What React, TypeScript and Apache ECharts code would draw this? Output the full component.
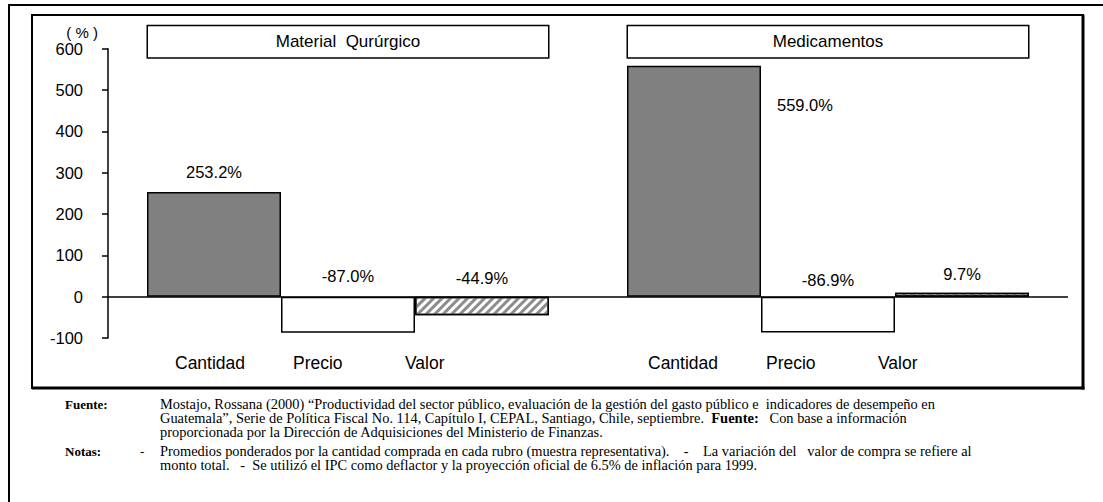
import React, { useEffect, useRef } from 'react';
import * as echarts from 'echarts';

const categories = ['Material Qurúrgico', 'Medicamentos'];
const seriesNames = ['Cantidad', 'Precio', 'Valor'];
const cantidad = [253.2, 559.0];
const precio = [-87.0, -86.9];
const valor = [-44.9, 9.7];
const yMin = -100;
const yMax = 600;
const yStep = 100;
const yName = '( % )';

const fuenteLines = [
  'Mostajo, Rossana (2000) “Productividad del sector público, evaluación de la gestión del gasto público e\u00a0 indicadores de desempeño en',
  'Guatemala”, Serie de Política Fiscal No. 114, Capítulo I, CEPAL, Santiago, Chile, septiembre.\u00a0 {b|Fuente:}\u00a0\u00a0 Con base a información',
  'proporcionada por la Dirección de Adquisiciones del Ministerio de Finanzas.',
];
const notasLines = [
  'Promedios ponderados por la cantidad comprada en cada rubro (muestra representativa).\u00a0\u00a0\u00a0 -\u00a0\u00a0\u00a0 La variación del\u00a0\u00a0 valor de compra se refiere al',
  'monto total.\u00a0\u00a0 -\u00a0 Se utilizó el IPC como deflactor y la proyección oficial de 6.5% de inflación para 1999.',
];

const sans = '"Liberation Sans", Arial, sans-serif';
const serif = '"Liberation Serif", "Times New Roman", serif';

export default function App() {
  const ref = useRef<HTMLDivElement>(null);
  useEffect(() => {
    document.body.style.margin = '0';
    const chart = echarts.init(ref.current!, null, { renderer: 'svg' });
    const pct = (p: any) => Number(p.value).toFixed(1) + '%';
    const baseLabel = {
      show: true,
      position: 'top',
      distance: 11,
      fontSize: 16.5,
      fontFamily: sans,
      color: '#000',
      formatter: pct,
    };
    const catStyle = { align: 'left', fontSize: 17.5, fontFamily: sans, color: '#000', lineHeight: 20 };
    const bottomRich = {
      a: { ...catStyle, width: 118 },
      b: { ...catStyle, width: 112 },
      c: { ...catStyle, width: 116 },
      s: { ...catStyle, width: 14 },
    };
    const noteText = (x: number, y: number, text: string, extra: any = {}) => ({
      type: 'text',
      silent: true,
      x,
      y,
      style: {
        text,
        fontSize: 14.4,
        fontFamily: serif,
        fill: '#000',
        verticalAlign: 'top',
        lineHeight: 14,
        ...extra,
      },
    });
    const option: any = {
      animation: false,
      grid: { left: 108, right: 35, top: 48.7, bottom: 164, containLabel: false },
      xAxis: [
        {
          type: 'category',
          data: categories,
          position: 'bottom',
          axisLine: { show: false },
          axisTick: { show: false },
          splitLine: { show: false },
          axisLabel: {
            margin: 15,
            interval: 0,
            formatter: (_v: string, i: number) =>
              `{a|${seriesNames[0]}}{b|${seriesNames[1]}}{c|${seriesNames[2]}}` + (i === 1 ? '{s| }' : ''),
            rich: bottomRich,
          },
        },
        {
          type: 'category',
          data: categories,
          position: 'top',
          axisLine: { show: false },
          axisTick: { show: false },
          splitLine: { show: false },
          axisLabel: {
            interval: 0,
            margin: 7,
            verticalAlign: 'middle',
            align: 'center',
            formatter: (v: string) => v.replace(' ', '\u00a0 '),
            fontSize: 17,
            fontFamily: sans,
            color: '#000',
            borderColor: '#000',
            borderWidth: 1.5,
            width: 400,
            height: 31,
            lineHeight: 31,
            backgroundColor: '#fff',
          },
        },
      ],
      yAxis: {
        type: 'value',
        min: yMin,
        max: yMax,
        interval: yStep,
        name: yName,
        nameLocation: 'end',
        nameGap: 6,
        nameTextStyle: { fontSize: 15, fontFamily: sans, color: '#000', align: 'right', padding: [0, 10, 0, 0] },
        axisLine: { show: true, lineStyle: { color: '#000', width: 1.5 } },
        axisTick: { show: true, inside: false, length: 6, lineStyle: { color: '#000', width: 1.5 } },
        axisLabel: { fontSize: 16.5, fontFamily: sans, color: '#000', margin: 25 },
        splitLine: { show: false },
      },
      series: [
        {
          name: seriesNames[0],
          type: 'bar',
          barWidth: 134,
          barGap: '0%',
          itemStyle: { color: '#808080', borderColor: '#000', borderWidth: 1.5 },
          label: baseLabel,
          data: cantidad.map((v, i) =>
            i === 1
              ? { value: v, label: { position: [150, 39], align: 'left', verticalAlign: 'middle' } }
              : { value: v, label: { distance: 12 } }
          ),
        },
        {
          name: seriesNames[1],
          type: 'bar',
          barWidth: 134,
          barGap: '0%',
          itemStyle: { color: '#fff', borderColor: '#000', borderWidth: 1.5 },
          label: baseLabel,
          data: precio.map((v, i) => ({ value: v, label: { distance: i === 1 ? 8 : 12 } })),
        },
        {
          name: seriesNames[2],
          type: 'bar',
          barWidth: 134,
          barGap: '0%',
          itemStyle: {
            color: '#fff',
            borderColor: '#000',
            borderWidth: 1.5,
            decal: {
              symbol: 'rect',
              symbolSize: 1,
              color: '#8c8c8c',
              dashArrayX: [1, 0],
              dashArrayY: [3, 3],
              rotation: -Math.PI / 4,
            },
          },
          label: baseLabel,
          data: valor.map((v) => ({ value: v, label: { distance: 10 } })),
          markLine: {
            silent: true,
            symbol: ['none', 'none'],
            label: { show: false },
            lineStyle: { color: '#000', width: 1.5, type: 'solid' },
            data: [{ yAxis: 0 }],
          },
        },
      ],
      graphic: [
        {
          type: 'rect',
          silent: true,
          shape: { x: 9, y: 5, width: 1200, height: 700 },
          style: { fill: 'none', stroke: '#000', lineWidth: 2 },
        },
        {
          type: 'rect',
          silent: true,
          shape: { x: 32, y: 15, width: 1051, height: 373 },
          style: { fill: 'none', stroke: '#000', lineWidth: 2 },
        },
        {
          type: 'line',
          silent: true,
          shape: { x1: 1083, y1: 15, x2: 1083, y2: 389.5 },
          style: { stroke: '#000', lineWidth: 3 },
        },
        {
          type: 'line',
          silent: true,
          shape: { x1: 32, y1: 388, x2: 1084.5, y2: 388 },
          style: { stroke: '#000', lineWidth: 3 },
        },
        noteText(65, 397, 'Fuente:', { fontSize: 13, fontWeight: 'bold' }),
        noteText(160, 397, fuenteLines.join('\n'), {
          rich: { b: { fontWeight: 'bold', fontSize: 14.5, fontFamily: serif, lineHeight: 14 } },
        }),
        noteText(65, 444, 'Notas:', { fontSize: 13, fontWeight: 'bold' }),
        noteText(140, 444, '-', { fontSize: 13 }),
        noteText(160, 444, notasLines.join('\n')),
      ],
    };
    chart.setOption(option);
    return () => chart.dispose();
  }, []);
  return <div ref={ref} style={{ width: 1103, height: 502 }} />;
}
